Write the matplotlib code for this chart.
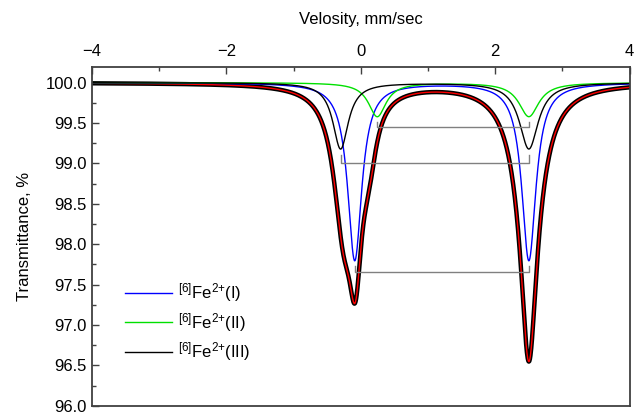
import numpy as np
import matplotlib.pyplot as plt
from matplotlib.ticker import MultipleLocator

plt.rcParams['font.family'] = ['Liberation Sans', 'DejaVu Sans']
plt.rcParams['mathtext.fontset'] = 'custom'
plt.rcParams['mathtext.rm'] = 'Liberation Sans'
plt.rcParams['mathtext.it'] = 'Liberation Sans:italic'

# subspectra (doublets): mm/sec and % absorption
labels = ['$^{[6]}$Fe$^{2{+}}$(I)', '$^{[6]}$Fe$^{2{+}}$(II)', '$^{[6]}$Fe$^{2{+}}$(III)']
colors = ['#0000ff', '#00e000', '#000000']
line1 = [-0.09, 0.245, -0.30]
line2 = [2.50, 2.50, 2.50]
depth = [2.20, 0.42, 0.82]
hwhm1 = [0.128, 0.16, 0.14]
hwhm2 = [0.128, 0.18, 0.17]
bracket_y = [97.66, 99.45, 99.0]

# envelope of the fit, as single lines (position, depth, half width)
fit_pos = [-0.08, -0.26, 0.12, 2.50, 2.50]
fit_depth = [1.75, 1.50, 0.60, 2.00, 1.44]
fit_hwhm = [0.12, 0.18, 0.14, 0.13, 0.25]
baseline = 100.0

v = np.linspace(-4, 4, 2000)


def lorentz(c, d, g):
    return d / (1 + ((v - c) / g) ** 2)


comps = [lorentz(a, d, g1) + lorentz(b, d, g2)
         for a, b, d, g1, g2 in zip(line1, line2, depth, hwhm1, hwhm2)]
fit = baseline - sum(lorentz(c, d, g) for c, d, g in zip(fit_pos, fit_depth, fit_hwhm))

fig, ax = plt.subplots(figsize=(6.38, 4.15), dpi=100)
fig.subplots_adjust(left=0.144, right=0.987, top=0.838, bottom=0.022)

# measured spectrum under the fit
ax.plot(v, fit, color='black', lw=3.2)
ax.plot(v, fit, color='#ff0000', lw=1.0)

for comp, c, lab in zip(comps, colors, labels):
    ax.plot(v, baseline - comp, color=c, lw=1.0, label=lab)

# quadrupole splitting brackets
for a, b, yb, d in zip(line1, line2, bracket_y, depth):
    top = baseline - d - 0.07
    ax.plot([a, a, b, b], [top, yb, yb, top], color='#808080', lw=1.0)

ax.set_xlim(-4, 4)
ax.set_ylim(96.0, 100.19)
ax.xaxis.tick_top()
ax.xaxis.set_label_position('top')
ax.xaxis.set_major_locator(MultipleLocator(2))
ax.xaxis.set_minor_locator(MultipleLocator(1))
ax.yaxis.set_major_locator(MultipleLocator(0.5))
ax.yaxis.set_minor_locator(MultipleLocator(0.25))
ax.yaxis.set_major_formatter(plt.FormatStrFormatter('%.1f'))
ax.tick_params(which='both', direction='in', labelsize=12, color='#404040')
ax.tick_params(which='major', length=5, width=1)
ax.tick_params(which='minor', length=3, width=1)
ax.tick_params(axis='x', pad=6)
for s in ax.spines.values():
    s.set_color('#404040')
    s.set_linewidth(1.3)

ax.set_xlabel('Velosity, mm/sec', fontsize=12, labelpad=14)
ax.set_ylabel('Transmittance, %', fontsize=12, labelpad=10)

ax.legend(loc='upper left', bbox_to_anchor=(0.034, 0.412), frameon=False,
          fontsize=12, handlelength=2.8, labelspacing=0.4, handletextpad=0.4)

fig.savefig('out.png', dpi=100)
